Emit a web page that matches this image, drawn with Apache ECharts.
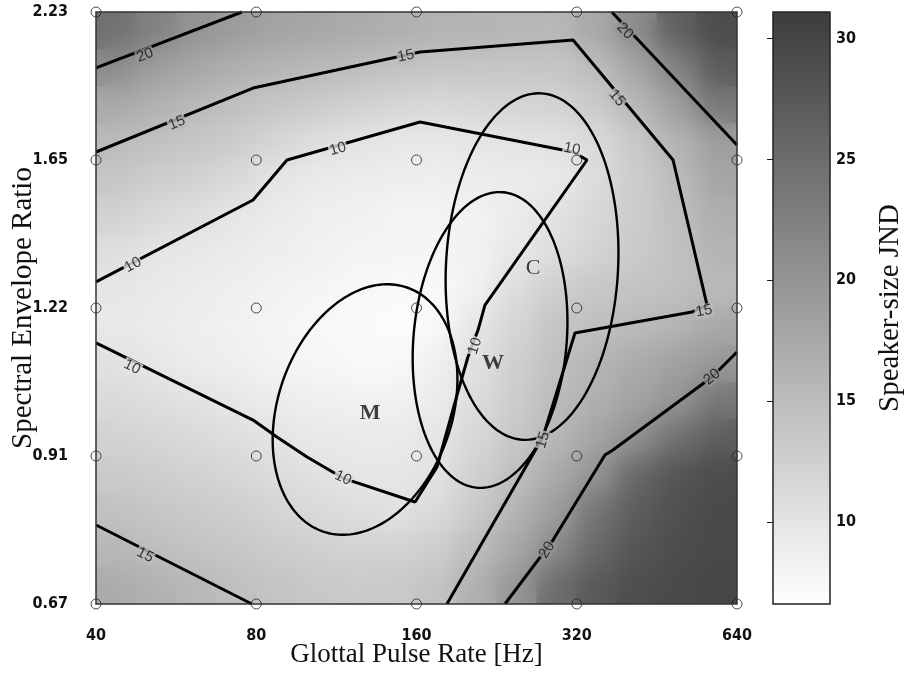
<!DOCTYPE html>
<html><head><meta charset="utf-8">
<script src="https://cdn.jsdelivr.net/npm/echarts@6/dist/echarts.min.js"></script>
<style>
html,body{margin:0;padding:0;background:#fff}
#wrap{position:relative;width:908px;height:673px;overflow:hidden}
#heatSharp{position:absolute;left:96px;top:12px;width:641px;height:592px}
#heatClip{position:absolute;left:96px;top:12px;width:641px;height:592px;overflow:hidden}
#heatBlur{width:641px;height:592px;filter:blur(13px)}
#c{position:absolute;left:0;top:0;width:908px;height:673px}
</style>
</head><body><div id="wrap">
<div id="heatSharp"></div>
<div id="heatClip"><div id="heatBlur"></div></div>
<div id="c"></div>
</div>
<script>
// ---- axis tick labels (log-spaced grid, index 0..4) ----
const xTickLabels = ['40', '80', '160', '320', '640'];
const yTickLabels = ['0.67', '0.91', '1.22', '1.65', '2.23'];
const colorbarTicks = [10, 15, 20, 25, 30];
const jndMin = 6.6, jndMax = 31.1;

// ---- speaker-size JND surface, read from the shading (16 x 16 cells, bottom row first) ----
const jndRows = [
  [17.2,16.4,15.5,14.6,14.0,13.5,13.2,13.4,14.2,16.5,19.8,24.9,27.5,28.8,29.4,29.7],
  [15.6,14.8,14.2,13.6,13.0,12.5,12.1,12.0,12.8,14.9,17.7,21.4,25.6,27.9,29.0,29.5],
  [14.4,13.8,13.3,12.7,12.0,11.3,10.8,10.4,11.2,13.3,16.1,19.0,23.9,27.1,28.6,29.4],
  [13.3,12.8,12.3,11.7,11.0,10.4, 9.8, 9.6,10.1,12.5,14.7,17.4,20.2,25.6,27.9,29.0],
  [12.3,11.8,11.2,10.7,10.0, 9.4, 9.2, 9.3, 9.8,11.6,13.6,15.7,18.0,20.5,24.5,26.8],
  [11.3,10.8,10.2, 9.6, 9.0, 8.6, 8.3, 8.3, 9.0,11.0,13.0,15.1,16.7,18.3,19.9,23.7],
  [10.4, 9.6, 9.0, 8.6, 8.1, 7.7, 7.4, 7.4, 8.5,10.5,12.6,14.5,15.9,17.2,18.5,19.7],
  [ 9.5, 9.1, 8.7, 8.3, 7.9, 7.5, 7.2, 7.0, 7.4, 9.9,11.9,14.0,14.6,15.3,16.0,17.5],
  [ 9.8, 9.4, 9.0, 8.6, 8.2, 7.8, 7.5, 7.2, 7.3, 8.3,11.0,12.8,13.6,14.1,14.5,15.4],
  [10.8, 9.9, 9.5, 9.1, 8.7, 8.3, 8.0, 7.8, 7.8, 8.2, 9.6,10.9,12.1,13.3,14.4,16.0],
  [12.2,11.4,10.6, 9.8, 9.1, 8.6, 8.3, 8.0, 8.0, 8.2, 9.1,10.2,11.6,13.1,14.6,16.8],
  [13.7,12.9,12.2,11.4, 9.9, 9.3, 9.0, 8.7, 8.6, 8.8, 9.0, 9.4,11.0,13.0,15.0,17.9],
  [15.1,14.4,13.7,13.0,11.8,10.7,10.0, 9.6, 9.5, 9.7,10.0,10.3,11.2,13.5,16.2,18.8],
  [17.4,16.4,15.4,14.5,13.8,13.1,12.4,11.7,11.4,11.7,11.9,12.1,13.2,15.6,18.6,23.5],
  [21.0,18.8,17.7,16.7,15.9,15.4,14.9,14.3,13.9,13.8,13.8,13.8,15.0,17.9,22.2,27.0],
  [24.5,22.3,20.0,19.0,18.2,17.6,17.1,16.6,16.2,16.0,15.8,15.6,17.5,21.1,26.5,29.0]
];

// ---- contour lines, in grid-index units [x, y] ----
const contour20TopLeft = [[0,3.622],[0.911,4.0]];
const contour15Main = [[0,3.054],[0.980,3.486],[2.022,3.730],[2.977,3.811],[3.601,3.0],[3.813,2.020],[3.719,1.973],[2.989,1.831],[2.789,1.128],[2.190,0]];
const contour10 = [[0,2.176],[0.980,2.730],[1.192,3.0],[2.022,3.257],[2.977,3.054],[3.064,3.0],[2.427,2.020],[2.384,1.851],[2.321,1.669],[2.253,1.412],[2.128,0.926],[1.991,0.689],[1.541,0.851],[1.317,0.993],[1.129,1.128],[0.980,1.243],[0,1.764]];
const contour20TopRight = [[3.219,4.0],[4.0,3.101]];
const contour20BottomRight = [[4.0,1.703],[3.844,1.534],[3.226,1.041],[3.176,1.007],[2.852,0.432],[2.552,0]];
const contour15BottomLeft = [[0,0.534],[0.973,0]];
const contours = [contour20TopLeft, contour15Main, contour10, contour20TopRight, contour20BottomRight, contour15BottomLeft];

// ---- contour labels [x, y, level, angle] ----
const contourLabels = [
  [0.306,3.709,20,21],[0.505,3.250,15,22],[1.934,3.703,15,12],[3.251,3.419,15,-50],
  [3.794,1.980,15,10],[2.789,1.108,15,73],[0.231,2.291,10,28],[1.510,3.074,10,16],
  [2.970,3.074,10,-11],[2.365,1.743,10,72],[0.225,1.601,10,-26],[1.541,0.851,10,-25],
  [3.301,3.872,20,-47],[3.844,1.534,20,40],[2.814,0.365,20,58],[0.306,0.331,15,-27]
];

// ---- ellipses [cx, cy, semi-axis x, semi-axis y, tilt deg] and their letters ----
const ellipses = [[1.679,1.314,0.543,0.872,19],[2.459,1.784,0.478,1.002,5],[2.721,2.280,0.537,1.172,3]];
const ellipseNames = ['M','W','C'];
const ellipseLetterPos = [[1.710,1.291],[2.477,1.628],[2.727,2.270]];

// ---------------------------------------------------------------
const heatData = [];
jndRows.forEach((row, j) => row.forEach((v, i) => heatData.push([i, j, v])));
const nodes = [];
xTickLabels.forEach((_, i) => yTickLabels.forEach((_, j) => nodes.push([i, j])));
const grayLo = 255, grayHi = 60;
const rampColors = ['#ffffff', '#3c3c3c'];
function levelColor(v) {
  const g = Math.round(grayLo - (v - jndMin) / (jndMax - jndMin) * (grayLo - grayHi));
  return 'rgb(' + g + ',' + g + ',' + g + ')';
}
const letterWeight = ['bold', 'bold', 'normal'];
const tickFont = "'Liberation Sans Narrow','DejaVu Sans Condensed','Liberation Sans',sans-serif";
const serif = "'Liberation Serif','DejaVu Serif',serif";

// ---- JND surface (drawn twice: crisp underlay + softened copy) ----
function heatOption() {
  return {
    animation: false,
    grid: { left: 0, top: 0, right: 0, bottom: 0, outerBoundsMode: 'none', containLabel: false },
    xAxis: { type: 'category', data: jndRows[0].map((_, i) => 'c' + i), show: false },
    yAxis: { type: 'category', data: jndRows.map((_, j) => 'r' + j), show: false },
    visualMap: { show: false, type: 'continuous', min: jndMin, max: jndMax, inRange: { color: rampColors } },
    series: [{ type: 'heatmap', data: heatData, silent: true, itemStyle: { borderWidth: 0 }, emphasis: { disabled: true } }]
  };
}
echarts.init(document.getElementById('heatSharp')).setOption(heatOption());
echarts.init(document.getElementById('heatBlur')).setOption(heatOption());

// ---- main chart: contours, ellipses, labels, axes, colour bar ----
const series = [];
contours.forEach(c => series.push({
  type: 'line', xAxisIndex: 0, yAxisIndex: 0, data: c, symbol: 'none', z: 3, silent: true,
  lineStyle: { color: '#000', width: 3 }, clip: false
}));
series.push({
  type: 'custom', xAxisIndex: 0, yAxisIndex: 0, data: ellipses, z: 4, silent: true, clip: false,
  renderItem: function (params, api) {
    const c = api.coord([api.value(0), api.value(1)]);
    const s = api.size([api.value(2), api.value(3)]);
    const t = api.value(4) * Math.PI / 180;
    const pts = [];
    for (let k = 0; k < 180; k++) {
      const a = k / 180 * 2 * Math.PI;
      const ex = s[0] * Math.cos(a), ey = s[1] * Math.sin(a);
      pts.push([c[0] + ex * Math.cos(t) - ey * Math.sin(t), c[1] + ex * Math.sin(t) + ey * Math.cos(t)]);
    }
    return { type: 'polygon', shape: { points: pts }, style: { fill: 'none', stroke: '#000', lineWidth: 2.4 } };
  }
});
series.push({
  type: 'scatter', xAxisIndex: 0, yAxisIndex: 0, z: 5, silent: true, symbolSize: 1, clip: false,
  itemStyle: { color: 'rgba(0,0,0,0)' },
  data: contourLabels.map(l => ({
    value: [l[0], l[1]],
    label: { formatter: String(l[2]), rotate: l[3], backgroundColor: levelColor(l[2]) }
  })),
  label: { show: true, position: 'inside', fontSize: 15, color: '#111', fontFamily: "'Liberation Sans',sans-serif", padding: [0, 1], lineHeight: 14 }
});
series.push({
  type: 'scatter', xAxisIndex: 0, yAxisIndex: 0, z: 5, silent: true, symbolSize: 1, clip: false,
  itemStyle: { color: 'rgba(0,0,0,0)' },
  data: ellipseLetterPos.map((p, k) => ({ value: p, label: { formatter: ellipseNames[k], fontWeight: letterWeight[k] } })),
  label: { show: true, position: 'inside', fontSize: 22, color: '#111', fontFamily: serif }
});
series.push({
  type: 'scatter', xAxisIndex: 0, yAxisIndex: 0, z: 6, silent: true, symbol: 'circle', symbolSize: 10, clip: false,
  itemStyle: { color: 'rgba(0,0,0,0)', borderColor: '#222', borderWidth: 1 },
  data: nodes
});

const option = {
  animation: false,
  backgroundColor: 'transparent',
  grid: [
    { left: 96, top: 12, width: 641, height: 592, outerBoundsMode: 'none', containLabel: false },
    { left: 773, top: 12, width: 57, height: 592, show: true, borderColor: '#222', borderWidth: 1.5,
      backgroundColor: 'transparent', z: 10, outerBoundsMode: 'none', containLabel: false }
  ],
  xAxis: [
    { type: 'value', gridIndex: 0, min: 0, max: xTickLabels.length - 1, interval: 1,
      axisLine: { show: false }, axisTick: { show: false }, splitLine: { show: false },
      axisLabel: { formatter: v => xTickLabels[v], margin: 24, fontSize: 16, fontWeight: 'bold', color: '#111', fontFamily: tickFont },
      name: 'Glottal Pulse Rate [Hz]', nameLocation: 'middle', nameGap: 37, nameMoveOverlap: false,
      nameTextStyle: { fontFamily: serif, fontSize: 27, color: '#111' } },
    { type: 'value', gridIndex: 1, min: 0, max: 1, show: false }
  ],
  yAxis: [
    { type: 'value', gridIndex: 0, min: 0, max: yTickLabels.length - 1, interval: 1,
      axisLine: { show: false }, axisTick: { show: false }, splitLine: { show: false },
      axisLabel: { formatter: v => yTickLabels[v], margin: 28, fontSize: 16, fontWeight: 'bold', color: '#111', fontFamily: tickFont },
      name: 'Spectral Envelope Ratio', nameLocation: 'middle', nameGap: 58, nameRotate: 90, nameMoveOverlap: false,
      nameTextStyle: { fontFamily: serif, fontSize: 29, color: '#111' } },
    { type: 'value', gridIndex: 1, min: jndMin, max: jndMax, position: 'right',
      axisLine: { show: false }, splitLine: { show: false },
      axisTick: { show: true, inside: true, length: 6, lineStyle: { color: '#222' }, customValues: colorbarTicks },
      axisLabel: { customValues: colorbarTicks, margin: 6, fontSize: 16, fontWeight: 'bold', color: '#111', fontFamily: tickFont },
      name: 'Speaker-size JND', nameLocation: 'middle', nameGap: 46, nameRotate: 90,
      nameTextStyle: { fontFamily: serif, fontSize: 29, color: '#111', verticalAlign: 'top' } },
    { type: 'value', gridIndex: 1, min: jndMin, max: jndMax, position: 'left',
      axisLine: { show: false }, splitLine: { show: false }, axisLabel: { show: false },
      axisTick: { show: true, inside: true, length: 6, lineStyle: { color: '#222' }, customValues: colorbarTicks } }
  ],
  visualMap: {
    type: 'continuous', seriesIndex: [], min: jndMin, max: jndMax, calculable: false, hoverLink: false,
    orient: 'vertical', left: 773, top: 12, itemWidth: 57, itemHeight: 592, padding: 0,
    inRange: { color: rampColors }, text: null
  },
  graphic: [{
    type: 'rect', shape: { x: 96, y: 12, width: 641, height: 592 }, z: 100, silent: true,
    style: { fill: 'none', stroke: '#333', lineWidth: 1.5 }
  }],
  series: series
};
const chart = echarts.init(document.getElementById('c'), null, { renderer: 'canvas' });
chart.setOption(option);
</script></body></html>
